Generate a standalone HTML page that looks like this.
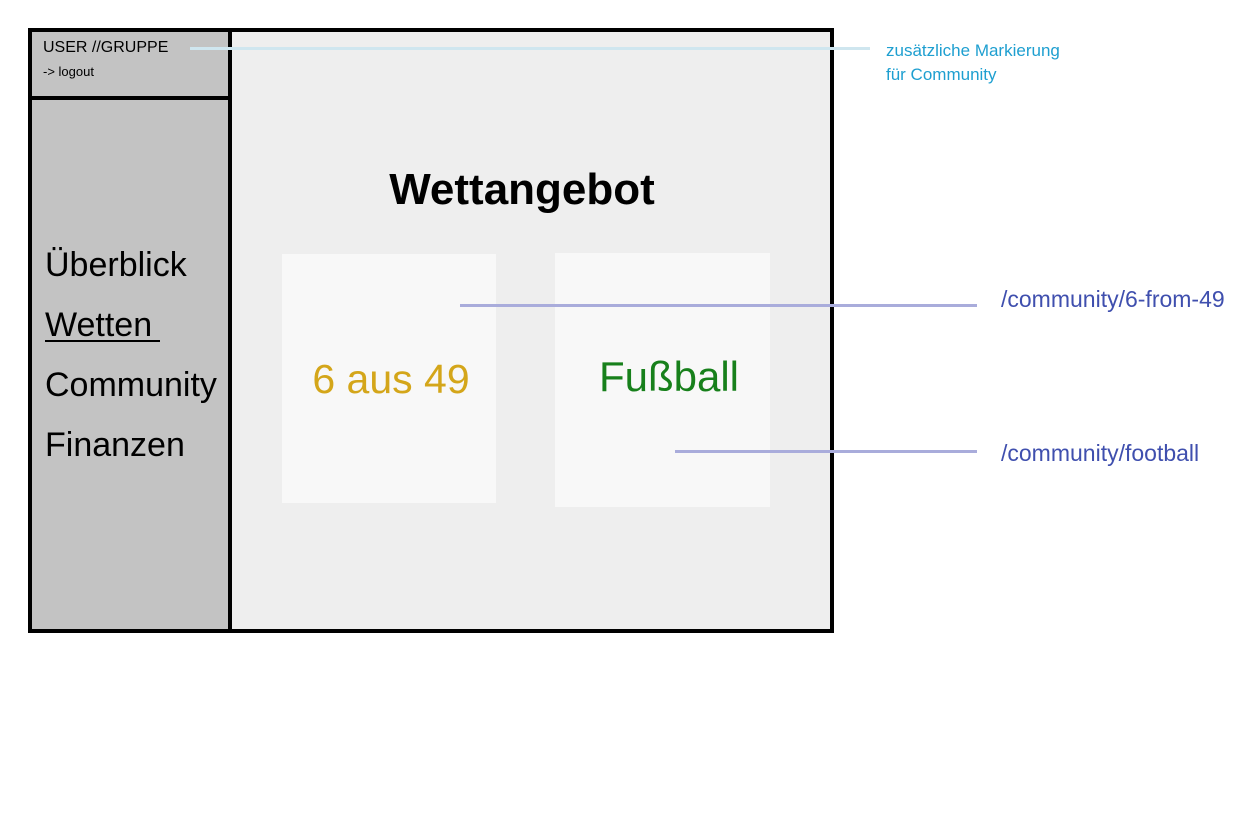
<!DOCTYPE html>
<html><head><meta charset="utf-8"><style>
body{margin:0;width:1248px;height:832px;background:#fff;position:relative;font-family:"Liberation Sans",sans-serif;overflow:hidden}
.a{position:absolute}
.t{position:absolute;white-space:nowrap}
</style></head><body>
<div class="a" style="left:28px;top:28px;width:798px;height:597px;border:4px solid #000;background:#eeeeee"></div>
<div class="a" style="left:32px;top:32px;width:196px;height:597px;background:#c3c3c3;border-right:4px solid #000"></div>
<div class="a" style="left:32px;top:96px;width:196px;height:4px;background:#000"></div>
<div class="t" style="left:43px;top:39px;font-size:16px">USER //GRUPPE</div>
<div class="t" style="left:43px;top:64px;font-size:13px">-&gt; logout</div>
<div class="t" style="left:45px;top:244px;font-size:34px;line-height:42px">Überblick</div>
<div class="t" style="left:45px;top:304px;font-size:34px;line-height:42px">Wetten</div>
<div class="a" style="left:45px;top:340px;width:115px;height:2px;background:#000"></div>
<div class="t" style="left:45px;top:364px;font-size:34px;line-height:42px">Community</div>
<div class="t" style="left:45px;top:424px;font-size:34px;line-height:42px">Finanzen</div>
<div class="t" style="left:232px;width:580px;top:164px;text-align:center;font-size:44px;font-weight:bold;line-height:52px">Wettangebot</div>
<div class="a" style="left:282px;top:254px;width:214px;height:249px;background:#f8f8f8"></div>
<div class="a" style="left:555px;top:253px;width:215px;height:254px;background:#f8f8f8"></div>
<div class="t" style="left:282px;width:218px;top:354px;text-align:center;font-size:41px;line-height:50px;color:#d4a61a">6 aus 49</div>
<div class="t" style="left:555px;width:228px;top:352px;text-align:center;font-size:42px;line-height:50px;color:#17801b">Fußball</div>
<div class="a" style="left:190px;top:47px;width:680px;height:3px;background:#cfe6ef"></div>
<div class="a" style="left:460px;top:304px;width:517px;height:3px;background:#a9acdb"></div>
<div class="a" style="left:675px;top:450px;width:302px;height:3px;background:#a9acdb"></div>
<div class="t" style="left:886px;top:39px;font-size:17px;line-height:24px;color:#1e9fd0">zusätzliche Markierung<br>für Community</div>
<div class="t" style="left:1001px;top:285px;font-size:23px;line-height:28px;color:#3f4fae">/community/6-from-49</div>
<div class="t" style="left:1001px;top:439px;font-size:23px;line-height:28px;color:#3f4fae">/community/football</div>
</body></html>
